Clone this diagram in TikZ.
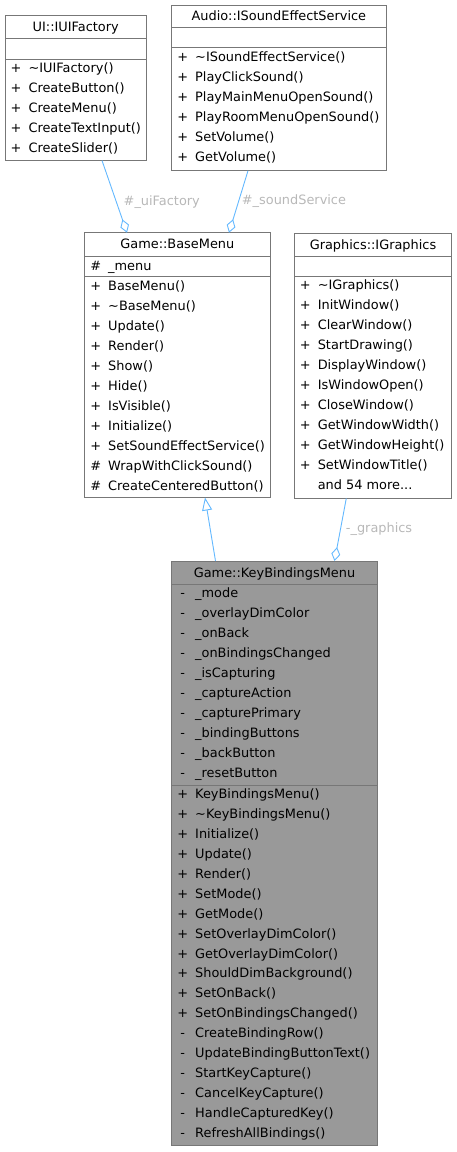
\documentclass[tikz,border=0pt]{standalone}
\usepackage{fontspec}
\setmainfont{DejaVu Sans}
\usetikzlibrary{arrows.meta}
\definecolor{boxborder}{HTML}{777777}
\definecolor{edgeblue}{HTML}{63B8FF}
\definecolor{lblgray}{HTML}{B8B8B8}
\definecolor{hlfill}{HTML}{999999}
\newcommand\umlfont{\fontsize{12.9}{15}\selectfont}
\tikzset{
  box/.style={draw=boxborder, line width=0.9pt, inner sep=0pt, outer sep=0pt},
  sepline/.style={draw=boxborder, line width=0.9pt},
  mem/.style={anchor=base west, inner sep=0pt, font=\umlfont},
  sym/.style={anchor=base, inner sep=0pt, font=\umlfont},
  ttl/.style={anchor=base, inner sep=0pt, font=\umlfont},
  edge/.style={draw=edgeblue, line width=0.9pt},
  elabel/.style={anchor=base west, inner sep=0pt, text=lblgray, font=\umlfont},
  agg/.style={-{Diamond[open,length=14pt,width=9pt,line width=0.9pt]}},
  inh/.style={-{Triangle[open,length=13pt,width=10pt,line width=0.9pt]}},
}
% #1 prefix, #2 left x, #3 first row centre y, #4 step, #5 list sym/text
\newcommand\umlmembers[5]{%
  \foreach \s/\t [count=\i from 0] in {#5} {
    \node[sym] (#1-s\i) at (#2+11, #3+\i*#4+4.6) {\s};
    \node[mem] (#1-m\i) at (#2+23.3, #3+\i*#4+4.6) {\t};
  }}
\begin{document}
\begin{tikzpicture}[x=1pt,y=-1pt]
\useasboundingbox (0,0) rectangle (457,1152);

% ---------- UI::IUIFactory ----------
\node[box, fill=white, minimum width=141.5pt, minimum height=145.5pt] (uif) at (75.75,87.75) {};
\draw[sepline] (5,38.3) -- (146.5,38.3);
\draw[sepline] (5,59) -- (146.5,59);
\node[ttl] (uif-t) at (75.75,31.3) {UI::IUIFactory};
\umlmembers{uif}{5}{68}{19.9}{+/{\textasciitilde IUIFactory()},+/{CreateButton()},+/{CreateMenu()},+/{CreateTextInput()},+/{CreateSlider()}}

% ---------- Audio::ISoundEffectService ----------
\node[box, fill=white, minimum width=214.3pt, minimum height=165.7pt] (ise) at (278.85,87.85) {};
\draw[sepline] (171.7,27.3) -- (386,27.3);
\draw[sepline] (171.7,47.7) -- (386,47.7);
\node[ttl] (ise-t) at (278.85,20.9) {Audio::ISoundEffectService};
\umlmembers{ise}{171.7}{57.3}{19.95}{+/{\textasciitilde ISoundEffectService()},+/{PlayClickSound()},+/{PlayMainMenuOpenSound()},+/{PlayRoomMenuOpenSound()},+/{SetVolume()},+/{GetVolume()}}

% ---------- Game::BaseMenu ----------
\node[box, fill=white, minimum width=185.3pt, minimum height=264.8pt] (bm) at (177.35,365.1) {};
\draw[sepline] (84.7,256) -- (270,256);
\draw[sepline] (84.7,276.7) -- (270,276.7);
\node[ttl] (bm-t) at (177.35,248.9) {Game::BaseMenu};
\umlmembers{bma}{84.7}{266}{20}{\#/{\_menu}}
\umlmembers{bm}{84.7}{286}{20}{+/{BaseMenu()},+/{\textasciitilde BaseMenu()},+/{Update()},+/{Render()},+/{Show()},+/{Hide()},+/{IsVisible()},+/{Initialize()},+/{SetSoundEffectService()},\#/{WrapWithClickSound()},\#/{CreateCenteredButton()}}

% ---------- Graphics::IGraphics ----------
\node[box, fill=white, minimum width=157.4pt, minimum height=265pt] (ig) at (373,365.8) {};
\draw[sepline] (294.3,256) -- (451.7,256);
\draw[sepline] (294.3,276.7) -- (451.7,276.7);
\node[ttl] (ig-t) at (373,249.3) {Graphics::IGraphics};
\umlmembers{ig}{294.3}{285}{20}{+/{\textasciitilde IGraphics()},+/{InitWindow()},+/{ClearWindow()},+/{StartDrawing()},+/{DisplayWindow()},+/{IsWindowOpen()},+/{CloseWindow()},+/{GetWindowWidth()},+/{GetWindowHeight()},+/{SetWindowTitle()},{}/{and 54 more...}}

% ---------- Game::KeyBindingsMenu ----------
\node[box, fill=hlfill, minimum width=205.6pt, minimum height=584pt] (kbm) at (274.5,853) {};
\draw[sepline] (171.7,584.3) -- (377.3,584.3);
\draw[sepline] (171.7,785) -- (377.3,785);
\node[ttl] (kbm-t) at (274.5,577.3) {Game::KeyBindingsMenu};
\umlmembers{kbma}{171.7}{593.3}{20}{-/{\_mode},-/{\_overlayDimColor},-/{\_onBack},-/{\_onBindingsChanged},-/{\_isCapturing},-/{\_captureAction},-/{\_capturePrimary},-/{\_bindingButtons},-/{\_backButton},-/{\_resetButton}}
\umlmembers{kbm}{171.7}{794}{19.93}{+/{KeyBindingsMenu()},+/{\textasciitilde KeyBindingsMenu()},+/{Initialize()},+/{Update()},+/{Render()},+/{SetMode()},+/{GetMode()},+/{SetOverlayDimColor()},+/{GetOverlayDimColor()},+/{ShouldDimBackground()},+/{SetOnBack()},+/{SetOnBindingsChanged()},-/{CreateBindingRow()},-/{UpdateBindingButtonText()},-/{StartKeyCapture()},-/{CancelKeyCapture()},-/{HandleCapturedKey()},-/{RefreshAllBindings()}}

% ---------- connectors ----------
\draw[edge, agg] ([xshift=26.25pt]uif.south) -- ([xshift=-50.35pt]bm.north);
\node[elabel] (l-uif) at (123.5,205) {\#\_uiFactory};
\draw[edge, agg] ([xshift=-30.85pt]ise.south) -- ([xshift=51.65pt]bm.north);
\node[elabel] (l-ise) at (241.7,204.5) {\#\_soundService};
\draw[edge, inh] ([xshift=-59pt]kbm.north) -- ([xshift=27.65pt]bm.south);
\draw[edge, agg] ([xshift=-26.7pt]ig.south) -- ([xshift=60pt]kbm.north);
\node[elabel] (l-ig) at (345.7,532.5) {-\_graphics};
\end{tikzpicture}
\end{document}
